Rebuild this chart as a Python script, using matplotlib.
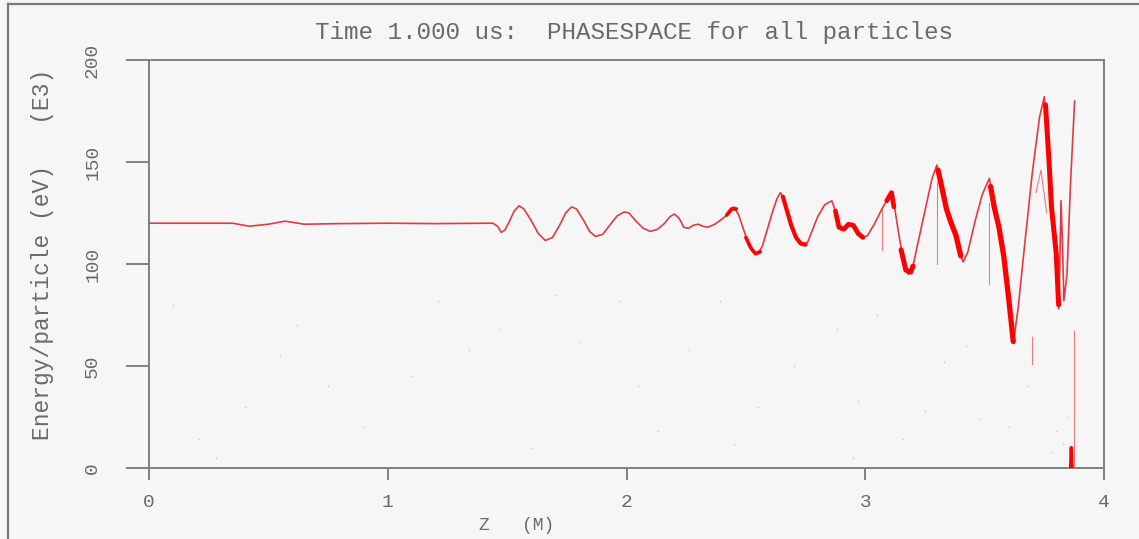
import matplotlib
matplotlib.use("Agg")
import matplotlib.pyplot as plt
from matplotlib.lines import Line2D

# ---------------- data ----------------
title = "Time 1.000 us:  PHASESPACE for all particles"
xlabel = "Z   (M)"
ylabel = "Energy/particle (eV)   (E3)"
xticks = [0, 1, 2, 3, 4]
yticks = [0, 50, 100, 150, 200]

# main phase-space trace: z (m), energy (keV)
main_z = [0.00, 0.35, 0.42, 0.50, 0.57, 0.65, 0.80, 1.00, 1.20, 1.44,
          1.46, 1.475, 1.49, 1.51, 1.53, 1.55, 1.57, 1.60, 1.63, 1.66,
          1.69, 1.72, 1.745, 1.77, 1.79, 1.82, 1.845, 1.87, 1.90, 1.93,
          1.96, 1.99, 2.01, 2.04, 2.07, 2.10, 2.13, 2.16, 2.18, 2.20,
          2.22, 2.24, 2.26, 2.28, 2.30, 2.32, 2.34, 2.37, 2.40, 2.43,
          2.45, 2.47, 2.49, 2.51, 2.53, 2.55, 2.57, 2.59, 2.61, 2.63,
          2.645, 2.66, 2.68, 2.70, 2.72, 2.74, 2.76, 2.78, 2.80, 2.83,
          2.86, 2.875, 2.89, 2.91, 2.93, 2.95, 2.97, 2.99, 3.01, 3.04,
          3.07, 3.09, 3.11, 3.12, 3.14, 3.16, 3.18, 3.20, 3.22, 3.25,
          3.28, 3.30, 3.32, 3.34, 3.36, 3.38, 3.40, 3.41, 3.43, 3.46,
          3.49, 3.52, 3.53, 3.55, 3.57, 3.59, 3.61, 3.62, 3.64, 3.67,
          3.70, 3.73, 3.75, 3.77, 3.78, 3.80, 3.81, 3.815, 3.82, 3.826,
          3.832, 3.845, 3.86, 3.877]
main_e = [120.0, 120.0, 118.5, 119.5, 121.0, 119.5, 119.8, 120.0, 119.8, 120.0,
          118.5, 115.5, 116.5, 121.0, 126.0, 128.5, 127.0, 121.5, 115.0, 111.5,
          113.0, 119.0, 125.0, 128.0, 127.0, 121.5, 116.0, 113.5, 114.5, 119.0,
          123.5, 125.5, 125.0, 121.0, 117.5, 116.0, 117.0, 120.0, 123.0, 124.5,
          122.5, 118.0, 117.5, 119.0, 119.5, 118.5, 118.0, 119.5, 122.0, 125.0,
          128.0, 124.0, 117.0, 110.0, 106.0, 105.0, 109.0, 117.0, 125.0, 132.0,
          135.0, 131.0, 123.0, 116.0, 111.0, 109.0, 111.0, 117.0, 123.0, 129.0,
          131.0, 126.0, 118.0, 117.0, 119.5, 119.0, 115.0, 113.0, 114.0, 120.0,
          127.0, 131.0, 135.0, 130.0, 115.0, 101.0, 95.0, 99.0, 110.0, 126.0,
          142.0, 148.5, 138.0, 127.0, 120.0, 114.0, 104.0, 101.0, 106.0, 121.0,
          134.0, 142.0, 134.0, 123.0, 114.0, 95.0, 72.0, 61.0, 78.0, 112.0,
          145.0, 172.0, 182.0, 150.0, 128.0, 105.0, 78.0, 100.0, 131.0, 110.0,
          82.0, 95.0, 140.0, 180.0]

# dense (thick) parts of the phase-space band
thick_segments = [
    ([2.42, 2.44, 2.46], [124.0, 127.0, 127.0]),
    ([2.50, 2.52, 2.54, 2.56], [113.0, 108.0, 105.0, 106.0]),
    ([2.655, 2.67, 2.69, 2.71, 2.73, 2.75], [133.0, 127.0, 119.0, 113.0, 110.0, 109.5]),
    ([2.875, 2.89, 2.91, 2.93, 2.95, 2.97, 2.99], [126.0, 118.0, 117.0, 119.5, 119.0, 115.0, 113.0]),
    ([3.09, 3.11, 3.12], [131.0, 135.0, 128.0]),
    ([3.15, 3.17, 3.19, 3.20], [107.0, 97.0, 96.0, 99.0]),
    ([3.305, 3.32, 3.34, 3.36, 3.38, 3.40], [146.0, 138.0, 127.0, 120.0, 114.0, 104.0]),
    ([3.525, 3.54, 3.56, 3.58, 3.60, 3.62], [138.0, 128.0, 118.0, 104.0, 84.0, 62.0]),
    ([3.755, 3.77, 3.78, 3.80, 3.81], [178.0, 150.0, 128.0, 105.0, 80.0]),
    ([3.86, 3.863, 3.866], [0.0, 10.0, 0.0]),
]
thick_widths = [2.6, 2.6, 3.0, 3.4, 3.4, 3.6, 3.8, 3.8, 3.6, 2.4]

# thin side branches / tails
branch_segments = [
    ([3.715, 3.736, 3.76], [135.0, 146.0, 125.0]),
    ([3.07, 3.07], [127.0, 107.0]),
    ([3.30, 3.30], [140.0, 100.0]),
    ([3.52, 3.52], [130.0, 90.0]),
    ([3.875, 3.875], [0.0, 67.0]),
    ([3.70, 3.70], [51.0, 64.0]),
]

# faint stray particles
stray_z = [0.21, 0.28, 0.55, 0.75, 1.21, 1.34, 1.47, 1.97, 2.13, 2.26,
           2.39, 2.55, 2.88, 2.97, 3.16, 3.33, 3.48, 0.10, 0.40, 0.90,
           1.10, 1.60, 1.80, 2.05, 2.45, 2.70, 3.05, 3.25, 3.60, 3.78,
           3.83, 3.85, 3.80, 0.62, 1.70, 2.95, 3.42, 3.68]
stray_e = [14.0, 5.0, 55.0, 40.0, 82.0, 58.0, 68.0, 82.0, 18.0, 58.0,
           82.0, 30.0, 68.0, 33.0, 14.0, 52.0, 24.0, 80.0, 30.0, 20.0,
           45.0, 10.0, 62.0, 40.0, 12.0, 50.0, 75.0, 28.0, 20.0, 8.0,
           12.0, 25.0, 18.0, 70.0, 85.0, 5.0, 60.0, 40.0]

# ---------------- figure ----------------
W, H = 1139, 539
bg = "#f6f6f6"
grey = "#808080"
txt = "#6a6a6a"
mono = ["Liberation Mono", "DejaVu Sans Mono"]

fig = plt.figure(figsize=(W / 100, H / 100), dpi=100, facecolor=bg)
ax = fig.add_axes([149 / W, 1 - 468 / H, (1104 - 149) / W, (468 - 60) / H])
ax.set_facecolor(bg)

ax.scatter(stray_z, stray_e, s=2, color="#e9c9c9", linewidths=0, zorder=1)
ax.plot(main_z, main_e, color="#e23a44", lw=1.2, zorder=3,
        solid_joinstyle="round", solid_capstyle="round")
for zs, es in branch_segments:
    ax.plot(zs, es, color="#ec7a80", lw=0.8, zorder=2)
for (zs, es), lw in zip(thick_segments, thick_widths):
    ax.plot(zs, es, color="#ff0000", lw=lw, zorder=4,
            solid_capstyle="round", solid_joinstyle="round")

ax.set_xlim(0, 4)
ax.set_ylim(0, 200)
ax.set_xticks(xticks)
ax.set_yticks(yticks)
ax.set_xticklabels([str(v) for v in xticks], family=mono, color=txt, fontsize=14)
ax.set_yticklabels([str(v) for v in yticks], family=mono, color=txt, fontsize=14,
                   rotation=90, va="center")
ax.tick_params(axis="x", direction="out", length=8.6, width=1.4, color=grey, pad=10)
ax.tick_params(axis="y", direction="out", length=16.5, width=1.4, color=grey, pad=18)
for sp in ax.spines.values():
    sp.set_color(grey)
    sp.set_linewidth(1.4)

fig.text(634 / W, 1 - 32 / H, title, ha="center", va="center",
         family=mono, fontsize=17.5, color=txt)
fig.text(43 / W, 1 - 254 / H, ylabel, ha="center", va="center", rotation=90,
         family=mono, fontsize=16.5, color=txt)
fig.text(517 / W, 1 - 525 / H, xlabel, ha="center", va="center",
         family=mono, fontsize=13, color=txt)

# outer frame (left and top edges)
fig.add_artist(Line2D([8 / W, 8 / W], [0, 1 - 4 / H], transform=fig.transFigure,
                      color="#7a7a7a", lw=1.6))
fig.add_artist(Line2D([8 / W, 1], [1 - 4 / H, 1 - 4 / H], transform=fig.transFigure,
                      color="#7a7a7a", lw=1.6))

fig.savefig("out.png", dpi=100, facecolor=bg)
